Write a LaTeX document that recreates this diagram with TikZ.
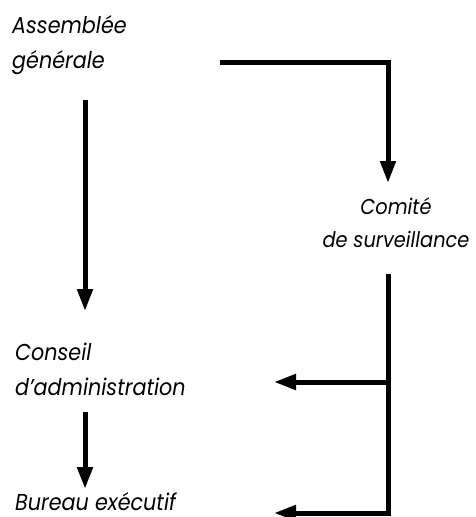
\documentclass[tikz,border=0pt]{standalone}
\usepackage{fontspec}
\setmainfont{Poppins}[FakeStretch=0.9]
\usetikzlibrary{arrows.meta}
\begin{document}
\begin{tikzpicture}[x=1pt,y=-1pt,
  lblfont/.style={inner sep=0pt, anchor=base west, font=\itshape\fontsize{23}{35}\selectfont},
  lbl/.style={lblfont, align=left},
  conn/.style={line width=5pt, -{Triangle[length=22pt,width=15pt]}},
  bare/.style={line width=5pt}]
\useasboundingbox (0,0) rectangle (476,517);
\node[lbl] (ag) at (12,68) {Assemblée\\générale};
\node[lbl, align=center, anchor=base, font=\itshape\fontsize{21.5}{33}\selectfont] (cs) at (396,247) {Comité\\de surveillance};
\node[lbl] (ca) at (15,395) {Conseil\\d’administration};
\node[lblfont] (be) at (15,510) {Bureau exécutif};
% connectors
\coordinate (agR) at (220,62);
\coordinate (agB) at (85,100);
\coordinate (csB) at (388,274);
\coordinate (j1) at (388,382);
\coordinate (j2) at (388,513);
\coordinate (caB) at (85,412);
\draw[conn] (agR) -| (388,183);
\draw[conn] (agB) -- (85,311);
\draw[bare] (csB) -- (j2);
\draw[conn] (j1) -- (274,382);
\draw[conn] ([xshift=2.5pt]j2) -- (274,513);
\draw[conn] (caB) -- (85,489);
\end{tikzpicture}
\end{document}
